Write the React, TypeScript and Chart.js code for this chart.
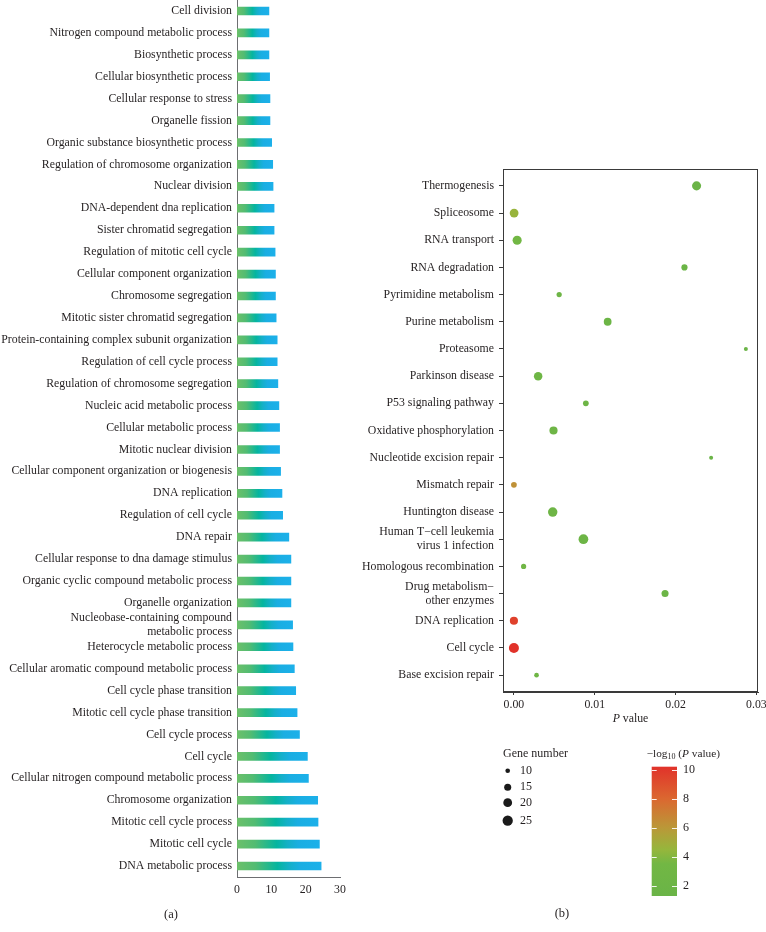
import React, { useEffect, useRef } from 'react';
import { Chart, registerables } from 'chart.js';

Chart.register(...registerables);

const FONT = "'Liberation Serif', 'Times New Roman', serif";
const TEXT = '#231f20';
const AXIS_A = '#6d6e71';
const FRAME = '#3a3a3a';

// ---------- Panel (a): GO terms (top to bottom) ----------
const goTerms = [
  'Cell division',
  'Nitrogen compound metabolic process',
  'Biosynthetic process',
  'Cellular biosynthetic process',
  'Cellular response to stress',
  'Organelle fission',
  'Organic substance biosynthetic process',
  'Regulation of chromosome organization',
  'Nuclear division',
  'DNA-dependent dna replication',
  'Sister chromatid segregation',
  'Regulation of mitotic cell cycle',
  'Cellular component organization',
  'Chromosome segregation',
  'Mitotic sister chromatid segregation',
  'Protein-containing complex subunit organization',
  'Regulation of cell cycle process',
  'Regulation of chromosome segregation',
  'Nucleic acid metabolic process',
  'Cellular metabolic process',
  'Mitotic nuclear division',
  'Cellular component organization or biogenesis',
  'DNA replication',
  'Regulation of cell cycle',
  'DNA repair',
  'Cellular response to dna damage stimulus',
  'Organic cyclic compound metabolic process',
  'Organelle organization',
  'Nucleobase-containing compound\nmetabolic process',
  'Heterocycle metabolic process',
  'Cellular aromatic compound metabolic process',
  'Cell cycle phase transition',
  'Mitotic cell cycle phase transition',
  'Cell cycle process',
  'Cell cycle',
  'Cellular nitrogen compound metabolic process',
  'Chromosome organization',
  'Mitotic cell cycle process',
  'Mitotic cell cycle',
  'DNA metabolic process',
];
const goValues = [
  9.3, 9.3, 9.3, 9.5, 9.6, 9.6, 10.1, 10.4, 10.5, 10.8,
  10.8, 11.1, 11.2, 11.2, 11.4, 11.7, 11.7, 11.9, 12.2, 12.4,
  12.4, 12.7, 13.1, 13.3, 15.1, 15.7, 15.7, 15.7, 16.2, 16.3,
  16.7, 17.1, 17.5, 18.2, 20.5, 20.8, 23.5, 23.6, 24.0, 24.5,
];
const goTicks = [0, 10, 20, 30];

// ---------- Panel (b): KEGG pathways (top to bottom) ----------
const pathways = [
  'Thermogenesis',
  'Spliceosome',
  'RNA transport',
  'RNA degradation',
  'Pyrimidine metabolism',
  'Purine metabolism',
  'Proteasome',
  'Parkinson disease',
  'P53 signaling pathway',
  'Oxidative phosphorylation',
  'Nucleotide excision repair',
  'Mismatch repair',
  'Huntington disease',
  'Human T\u2212cell leukemia\nvirus 1 infection',
  'Homologous recombination',
  'Drug metabolism\u2212\nother enzymes',
  'DNA replication',
  'Cell cycle',
  'Base excision repair',
];
const pathwayPValues = [
  0.0226, 2.5e-5, 0.0004, 0.0211, 0.0056, 0.0116, 0.0287, 0.0030, 0.0089, 0.0049,
  0.0244, 5e-7, 0.0048, 0.0086, 0.0012, 0.0187, 2.5e-10, 6e-11, 0.0028,
];
const pathwayGeneCounts = [
  21, 20, 21, 13, 11, 17, 9, 19, 12, 18,
  9, 12, 22, 23, 11, 15, 18, 24, 10,
];
const pTicks = [0, 0.01, 0.02, 0.03];
const sizeLegendCounts = [10, 15, 20, 25];
const colorbarTicks = [2, 4, 6, 8, 10];
const colorbarMin = 1.28;
const colorbarMax = 10.23;

const colorStops: [number, [number, number, number]][] = [
  [1.28, [106, 180, 71]],
  [3.5, [114, 183, 68]],
  [4.5, [150, 182, 60]],
  [6.0, [186, 152, 56]],
  [8.0, [219, 104, 48]],
  [10.23, [225, 50, 42]],
];

function rgb(c: number[]) {
  return `rgb(${Math.round(c[0])},${Math.round(c[1])},${Math.round(c[2])})`;
}
function colorFor(v: number): string {
  const s = colorStops;
  if (v <= s[0][0]) return rgb(s[0][1]);
  for (let i = 1; i < s.length; i++) {
    if (v <= s[i][0]) {
      const t = (v - s[i - 1][0]) / (s[i][0] - s[i - 1][0]);
      const a = s[i - 1][1];
      const b = s[i][1];
      return rgb([a[0] + (b[0] - a[0]) * t, a[1] + (b[1] - a[1]) * t, a[2] + (b[2] - a[2]) * t]);
    }
  }
  return rgb(s[s.length - 1][1]);
}
function radiusFor(n: number) {
  return Math.sqrt(Math.max(1.4 * n - 8.6, 1));
}

type Run = { text: string; font: string; dy?: number };
function drawRuns(ctx: CanvasRenderingContext2D, runs: Run[], x: number, y: number, align: 'left' | 'center') {
  let total = 0;
  for (const r of runs) {
    ctx.font = r.font;
    total += ctx.measureText(r.text).width;
  }
  let cx = align === 'center' ? x - total / 2 : x;
  ctx.textAlign = 'left';
  ctx.textBaseline = 'middle';
  for (const r of runs) {
    ctx.font = r.font;
    ctx.fillText(r.text, cx, y + (r.dy || 0));
    cx += ctx.measureText(r.text).width;
  }
}

const OX = 340; // page x of panel (b) canvas
const LEG = `12px ${FONT}`;

const panelBPlugin = {
  id: 'panelBExtras',
  afterDraw(chart: any) {
    const ctx: CanvasRenderingContext2D = chart.ctx;
    const a = chart.chartArea;
    ctx.save();
    // frame
    ctx.strokeStyle = FRAME;
    ctx.lineWidth = 1;
    ctx.strokeRect(Math.round(a.left) + 0.5, Math.round(a.top) + 0.5, Math.round(a.right - a.left) - 1, Math.round(a.bottom - a.top) - 1);
    ctx.fillStyle = TEXT;
    // x title
    drawRuns(ctx, [
      { text: 'P', font: `italic 11.8px ${FONT}` },
      { text: ' value', font: `11.8px ${FONT}` },
    ], (a.left + a.right) / 2, 719, 'center');

    // size legend
    ctx.font = LEG;
    ctx.textAlign = 'left';
    ctx.textBaseline = 'middle';
    ctx.fillText('Gene number', 503 - OX, 754);
    const ys = [770.7, 787.3, 802.7, 820.7];
    sizeLegendCounts.forEach((n, i) => {
      ctx.fillStyle = '#1a1a1a';
      ctx.beginPath();
      ctx.arc(507.7 - OX, ys[i], radiusFor(n), 0, Math.PI * 2);
      ctx.fill();
      ctx.fillStyle = TEXT;
      ctx.font = LEG;
      ctx.fillText(String(n), 520 - OX, ys[i]);
    });

    // colorbar
    const x0 = 651.7 - OX, x1 = 677 - OX, yTop = 766.7, yBot = 896;
    const g = ctx.createLinearGradient(0, yBot, 0, yTop);
    colorStops.forEach(([v, c]) => {
      g.addColorStop(Math.min(1, Math.max(0, (v - colorbarMin) / (colorbarMax - colorbarMin))), rgb(c));
    });
    ctx.fillStyle = g;
    ctx.fillRect(x0, yTop, x1 - x0, yBot - yTop);
    const yOf = (v: number) => yBot - ((v - colorbarMin) / (colorbarMax - colorbarMin)) * (yBot - yTop);
    colorbarTicks.forEach((v) => {
      const y = Math.round(yOf(v)) + 0.5;
      ctx.strokeStyle = 'rgba(255,255,255,0.9)';
      ctx.lineWidth = 1;
      ctx.beginPath();
      ctx.moveTo(x0, y); ctx.lineTo(x0 + 5, y);
      ctx.moveTo(x1 - 5, y); ctx.lineTo(x1, y);
      ctx.stroke();
      ctx.fillStyle = TEXT;
      ctx.font = LEG;
      ctx.textAlign = 'left';
      ctx.textBaseline = 'middle';
      ctx.fillText(String(v), 683 - OX, yOf(v));
    });
    ctx.fillStyle = TEXT;
    drawRuns(ctx, [
      { text: '\u2212log', font: `11.3px ${FONT}` },
      { text: '10', font: `8px ${FONT}`, dy: 3 },
      { text: ' (', font: `11.3px ${FONT}` },
      { text: 'P', font: `italic 11.3px ${FONT}` },
      { text: ' value)', font: `11.3px ${FONT}` },
    ], 646.7 - OX, 754, 'left');
    ctx.restore();
  },
};

export default function App() {
  const aRef = useRef<HTMLCanvasElement>(null);
  const bRef = useRef<HTMLCanvasElement>(null);

  useEffect(() => {
    Chart.defaults.font.family = FONT;
    Chart.defaults.color = TEXT;

    const tickFont = { family: FONT, size: 11.8, lineHeight: 1.2 };

    const chartA = new Chart(aRef.current!, {
      type: 'bar',
      data: {
        labels: goTerms.map((t) => (t.includes('\n') ? t.split('\n') : t)),
        datasets: [
          {
            data: goValues,
            barThickness: 8,
            borderWidth: 0,
            backgroundColor: (ctx: any) => {
              const chart = ctx.chart;
              const area = chart.chartArea;
              if (!area || ctx.type !== 'data') return '#1ab0e8';
              const xs = chart.scales.x;
              const p0 = xs.getPixelForValue(0);
              const p1 = xs.getPixelForValue(ctx.raw as number);
              const g = chart.ctx.createLinearGradient(p0, 0, p1, 0);
              g.addColorStop(0, '#6cc06a');
              g.addColorStop(0.22, '#52bc72');
              g.addColorStop(0.48, '#05b59f');
              g.addColorStop(0.62, '#14b0c8');
              g.addColorStop(0.75, '#1aaee2');
              g.addColorStop(1, '#1cb0ea');
              return g;
            },
          },
        ],
      },
      options: {
        indexAxis: 'y',
        responsive: false,
        animation: false,
        events: [],
        layout: { padding: { top: 20, right: 20, bottom: 25, left: 0 } },
        plugins: { legend: { display: false }, tooltip: { enabled: false }, title: { display: false } },
        scales: {
          x: {
            type: 'linear',
            min: 0,
            max: 30,
            afterBuildTicks: (s: any) => {
              s.ticks = goTicks.map((v) => ({ value: v }));
            },
            afterFit: (s: any) => {
              s.height = 30;
            },
            grid: { display: false, drawTicks: false },
            border: { display: true, color: AXIS_A, width: 1 },
            ticks: { padding: 6, font: tickFont, color: TEXT, maxRotation: 0 },
          },
          y: {
            type: 'category',
            afterFit: (s: any) => {
              s.width = 237;
            },
            grid: { display: false, drawTicks: false },
            border: { display: true, color: AXIS_A, width: 1 },
            ticks: { padding: 5, autoSkip: false, font: tickFont, color: TEXT },
          },
        },
      } as any,
    });

    const n = pathways.length;
    const chartB = new Chart(bRef.current!, {
      type: 'bubble',
      data: {
        datasets: [
          {
            data: pathways.map((_, i) => ({
              x: pathwayPValues[i],
              y: n - 1 - i,
              r: radiusFor(pathwayGeneCounts[i]),
            })),
            backgroundColor: pathwayPValues.map((p) => colorFor(-Math.log10(p))),
            borderWidth: 0,
            hoverRadius: 0,
          },
        ],
      },
      options: {
        responsive: false,
        animation: false,
        events: [],
        layout: { padding: { top: 169, right: 22, bottom: 200, left: 0 } },
        plugins: { legend: { display: false }, tooltip: { enabled: false }, title: { display: false } },
        scales: {
          x: {
            type: 'linear',
            min: -0.00135,
            max: 0.0302,
            afterBuildTicks: (s: any) => {
              s.ticks = pTicks.map((v) => ({ value: v }));
            },
            afterFit: (s: any) => {
              s.height = 40;
            },
            grid: { display: true, drawOnChartArea: false, drawTicks: true, tickLength: 3, color: FRAME },
            border: { display: true, color: FRAME, width: 1 },
            ticks: {
              padding: 3,
              font: tickFont,
              color: TEXT,
              maxRotation: 0,
              callback: (v: any) => Number(v).toFixed(2),
            },
          },
          y: {
            type: 'linear',
            min: -0.62,
            max: n - 1 + 0.62,
            afterBuildTicks: (s: any) => {
              s.ticks = pathways.map((_, i) => ({ value: i }));
            },
            afterFit: (s: any) => {
              s.width = 163;
            },
            grid: { display: true, drawOnChartArea: false, drawTicks: true, tickLength: 4, color: FRAME },
            border: { display: true, color: FRAME, width: 1 },
            ticks: {
              padding: 5,
              autoSkip: false,
              font: tickFont,
              color: TEXT,
              callback: (v: any) => {
                const idx = n - 1 - Math.round(Number(v));
                const lab = pathways[idx] || '';
                return lab.includes('\n') ? lab.split('\n') : lab;
              },
            },
          },
        },
      } as any,
      plugins: [panelBPlugin as any],
    });

    return () => {
      chartA.destroy();
      chartB.destroy();
    };
  }, []);

  const capStyle: React.CSSProperties = {
    position: 'absolute',
    transform: 'translate(-50%, -50%)',
    fontSize: 12.5,
    color: TEXT,
    fontFamily: FONT,
    whiteSpace: 'nowrap',
  };

  return (
    <div
      style={{
        position: 'absolute',
        left: 0,
        top: 0,
        width: 766,
        height: 932,
        overflow: 'hidden',
        background: '#ffffff',
      }}
    >
      <canvas
        ref={aRef}
        width={360}
        height={952}
        style={{ position: 'absolute', left: 0, top: -20, width: 360, height: 952 }}
      />
      <canvas
        ref={bRef}
        width={440}
        height={932}
        style={{ position: 'absolute', left: OX, top: 0, width: 440, height: 932 }}
      />
      <div style={{ ...capStyle, left: 171, top: 914 }}>(a)</div>
      <div style={{ ...capStyle, left: 562, top: 913 }}>(b)</div>
    </div>
  );
}
